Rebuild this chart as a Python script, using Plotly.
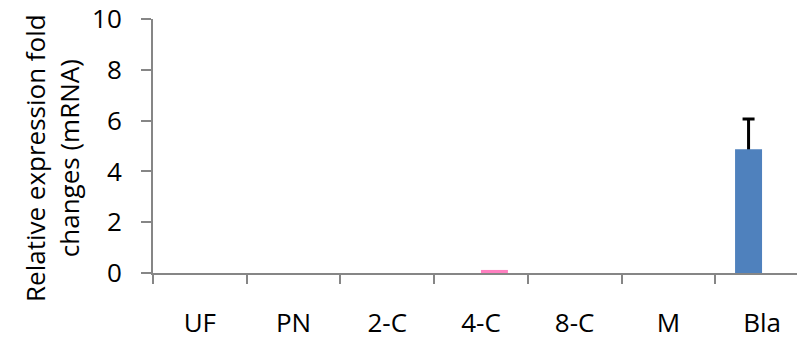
import plotly.graph_objects as go

categories = ["UF", "PN", "2-C", "4-C", "8-C", "M", "Bla"]
series_blue = [0, 0, 0, 0, 0, 0, 4.87]
series_blue_err = [0, 0, 0, 0, 0, 0, 1.19]
series_pink = [0, 0, 0, 0.12, 0, 0, 0]

FONT = "Open Sans"
FS = 26
AXIS_COLOR = "#868686"
BLUE = "#4f81bd"
PINK = "#ff80c0"

# zero-height bars are not drawn (so no error caps appear on them)
blue_y = [v if v else None for v in series_blue]
pink_y = [v if v else None for v in series_pink]

fig = go.Figure()
# Bottom layer: transparent bars carrying only the error bars (lower half gets hidden
# by the visible bars drawn on the overlaying subplot -> "plus" direction only look)
fig.add_trace(go.Bar(
    x=categories, y=blue_y, marker=dict(color="rgba(0,0,0,0)", line=dict(width=0)),
    error_y=dict(type="data", array=series_blue_err, symmetric=True,
                 color="black", thickness=3, width=6),
    showlegend=False, hoverinfo="skip", xaxis="x", yaxis="y",
))
fig.add_trace(go.Bar(
    x=categories, y=pink_y, marker=dict(color="rgba(0,0,0,0)", line=dict(width=0)),
    showlegend=False, hoverinfo="skip", xaxis="x", yaxis="y",
))
# Top layer: visible bars
fig.add_trace(go.Bar(
    x=categories, y=blue_y, marker=dict(color=BLUE, line=dict(width=0)),
    showlegend=False, xaxis="x2", yaxis="y2",
))
fig.add_trace(go.Bar(
    x=categories, y=pink_y, marker=dict(color=PINK, line=dict(width=0)),
    showlegend=False, xaxis="x2", yaxis="y2",
))

L, T, B = 153, 19, 71
plot_w = 797 - L
plot_h = 344 - T - B
XRANGE = [-0.5, 6.373]
YRANGE = [0, 10]

fig.update_layout(
    width=797, height=344,
    margin=dict(l=L, r=0, t=T, b=B),
    paper_bgcolor="white", plot_bgcolor="white",
    barmode="group", bargap=0.424, bargroupgap=0,
    font=dict(family=FONT, size=FS, color="black"),
    xaxis=dict(
        type="category", categoryorder="array", categoryarray=categories,
        range=XRANGE,
        showline=True, linecolor=AXIS_COLOR, linewidth=2,
        ticks="outside", tickson="boundaries", ticklen=9, tickwidth=2, tickcolor=AXIS_COLOR,
        showgrid=False, zeroline=False,
        tickfont=dict(family=FONT, size=FS, color="black"),
        ticklabelstandoff=26,
    ),
    yaxis=dict(
        range=YRANGE, tickvals=[0, 2, 4, 6, 8, 10],
        showline=True, linecolor=AXIS_COLOR, linewidth=2,
        ticks="outside", ticklen=10, tickwidth=2, tickcolor=AXIS_COLOR,
        showgrid=False, zeroline=False,
        tickfont=dict(family=FONT, size=FS, color="black"),
        ticklabelstandoff=14,
    ),
    xaxis2=dict(
        type="category", categoryorder="array", categoryarray=categories,
        range=XRANGE, overlaying="x", visible=False, showgrid=False, zeroline=False,
    ),
    yaxis2=dict(
        range=YRANGE, overlaying="y", visible=False, showgrid=False, zeroline=False,
    ),
    annotations=[dict(
        text="Relative expression fold<br>changes (mRNA)",
        textangle=-90,
        x=(52 - L) / plot_w, y=(344 - B - 158) / plot_h,
        xref="paper", yref="paper", xanchor="center", yanchor="middle",
        showarrow=False, font=dict(family=FONT, size=FS, color="black"),
    )],
)

fig.write_html("out.html")
